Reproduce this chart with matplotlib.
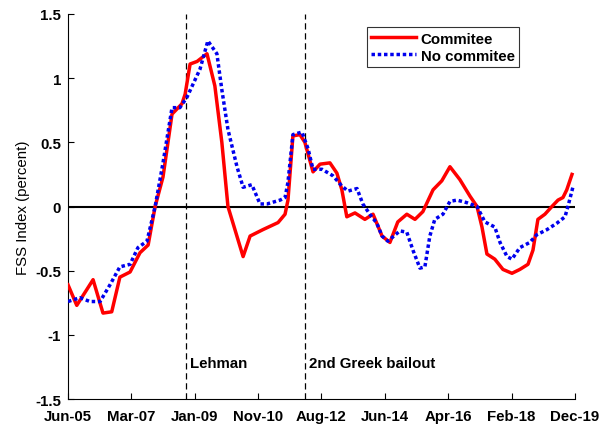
import matplotlib
matplotlib.use("Agg")
import matplotlib.pyplot as plt
import numpy as np

plt.rcParams['font.family'] = ['Liberation Sans', 'DejaVu Sans']
plt.rcParams['font.weight'] = 'bold'

# months since Jun-2005
red_m = [0, 3, 8.6, 12, 15, 17.8, 21.3, 24.7, 27.5, 29.9, 32.6, 35.7, 39.1, 40.2, 41.9, 44.3,
         47.7, 50.4, 52.8, 54.9, 60.1, 62.5, 66.9, 72.1, 74.5, 75.5, 77.2, 79.6, 81.3, 84.1,
         86.5, 89.9, 92.3, 94.0, 95.7, 98.5, 101.9, 104.7, 107.8, 110.5, 113.2, 116.3, 119.1,
         121.8, 125.3, 128.3, 131.1, 134.5, 138.0, 140.4, 142.1, 143.8, 146.5, 149.3, 152.4,
         155.1, 157.9, 159.6, 161.3, 163.7, 166.1, 168.2, 169.9, 171.2, 173.0]
red_v = [-0.61, -0.77, -0.57, -0.83, -0.82, -0.55, -0.51, -0.36, -0.30, 0.0, 0.23, 0.72, 0.80,
         0.875, 1.11, 1.13, 1.19, 0.94, 0.50, 0.0, -0.39, -0.23, -0.18, -0.125, -0.06, 0.05,
         0.55, 0.56, 0.50, 0.27, 0.33, 0.34, 0.26, 0.13, -0.08, -0.05, -0.10, -0.06, -0.23,
         -0.28, -0.12, -0.06, -0.10, -0.04, 0.13, 0.20, 0.31, 0.21, 0.08, 0.0, -0.16, -0.37,
         -0.41, -0.49, -0.52, -0.49, -0.45, -0.34, -0.10, -0.06, 0.0, 0.05, 0.07, 0.13, 0.25]

blue_m = [0, 4.1, 7.5, 11.0, 14.4, 17.8, 21.3, 24.0, 27.1, 29.9, 32.6, 35.7, 38.4, 40.8, 45.3,
          48.0, 51.1, 52.8, 54.9, 58.0, 60.1, 63.1, 65.9, 68.3, 72.8, 74.5, 75.5, 77.2, 80.3,
          82.4, 84.1, 87.2, 90.9, 94.0, 96.1, 99.2, 101.2, 103.6, 106.0, 107.8, 109.8, 113.9,
          116.3, 118.4, 120.8, 122.5, 124.2, 125.9, 128.7, 131.1, 133.5, 136.9, 140.4, 143.1,
          146.5, 148.3, 150.7, 152.4, 155.1, 158.5, 160.9, 164.4, 167.8, 170.6, 171.6, 173.3]
blue_v = [-0.74, -0.71, -0.74, -0.74, -0.61, -0.47, -0.45, -0.32, -0.27, 0.0, 0.34, 0.77, 0.77,
          0.85, 1.07, 1.29, 1.19, 0.91, 0.60, 0.31, 0.15, 0.17, 0.02, 0.02, 0.05, 0.07, 0.19,
          0.56, 0.58, 0.45, 0.29, 0.29, 0.24, 0.16, 0.12, 0.14, 0.02, -0.06, -0.13, -0.23,
          -0.27, -0.19, -0.20, -0.34, -0.48, -0.47, -0.23, -0.10, -0.06, 0.04, 0.05, 0.03, 0.0,
          -0.12, -0.16, -0.28, -0.39, -0.41, -0.32, -0.28, -0.22, -0.18, -0.13, -0.08, 0.0, 0.15]

tick_labels = ['Jun-05', 'Mar-07', 'Jan-09', 'Nov-10', 'Aug-12', 'Jun-14', 'Apr-16', 'Feb-18', 'Dec-19']
events = [40.6, 81.3]
event_labels = ['Lehman', '2nd Greek bailout']

FS = 10.8

fig = plt.figure(figsize=(6.02, 4.27), dpi=100)
ax = fig.add_axes([0.113, 0.063, 0.842, 0.902])

ax.axhline(0, color='black', lw=1.5, zorder=1)
for e in events:
    ax.axvline(e, color='black', lw=0.9, ls=(0, (5, 3)), zorder=1)

ax.plot(red_m, red_v, color='#ff0000', lw=2.5, label='Commitee', zorder=3)
ax.plot(blue_m, blue_v, color='#0000ee', lw=2.5, ls=(0, (1, 0.8)), label='No commitee', zorder=4)

for e, t in zip(events, event_labels):
    ax.text(e + 1.3, -1.22, t, fontsize=FS, va='center', ha='left')

ax.set_xlim(0, 174)
ax.set_ylim(-1.5, 1.5)
ax.set_xticks(np.linspace(0, 174, len(tick_labels)))
ax.set_xticklabels(tick_labels)
ax.set_yticks([-1.5, -1, -0.5, 0, 0.5, 1, 1.5])
ax.set_yticklabels(['-1.5', '-1', '-0.5', '0', '0.5', '1', '1.5'])
ax.tick_params(direction='in', length=4, labelsize=FS, width=0.8)
ax.tick_params(axis='x', pad=7)
ax.tick_params(axis='y', pad=5)
ax.spines['top'].set_visible(False)
ax.spines['right'].set_visible(False)
ax.set_ylabel('FSS Index (percent)', fontsize=FS, labelpad=4)

leg = ax.legend(loc='upper right', bbox_to_anchor=(0.905, 0.985), fontsize=FS, frameon=True,
                fancybox=False, edgecolor='black', borderpad=0.3, handlelength=3.0,
                labelspacing=0.2, handletextpad=0.3)
leg.get_frame().set_linewidth(0.8)

fig.savefig('out.png', dpi=100)
